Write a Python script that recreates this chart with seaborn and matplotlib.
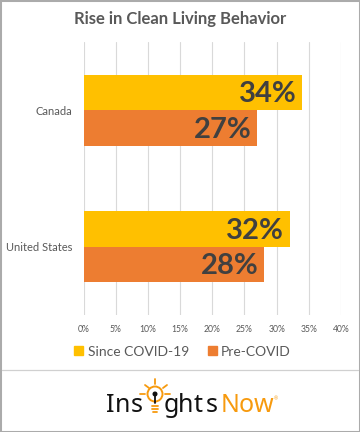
import matplotlib
matplotlib.use("Agg")
import matplotlib.pyplot as plt
from matplotlib.patches import Rectangle
from matplotlib.lines import Line2D
import seaborn as sns
import pandas as pd

countries = ["Canada", "United States"]
since_covid = [34, 32]
pre_covid = [27, 28]
series_names = ["Since COVID-19", "Pre-COVID"]
x_ticks = [0, 5, 10, 15, 20, 25, 30, 35, 40]
title = "Rise in Clean Living Behavior"

W, H = 360, 432
sns.set_theme(style="white")
plt.rcParams["font.family"] = ["Open Sans", "DejaVu Sans"]
GREY = "#595959"
colors = ["#FFC000", "#ED7D31"]

df = pd.DataFrame({
    "country": countries * 2,
    "value": since_covid + pre_covid,
    "series": [series_names[0]] * 2 + [series_names[1]] * 2,
})

fig = plt.figure(figsize=(W / 100, H / 100), dpi=100, facecolor="white")
ax = fig.add_axes([83.5 / W, 1 - 315 / H, (341 - 83.5) / W, (315 - 42) / H])
sns.barplot(data=df, y="country", x="value", hue="series", palette=colors,
            width=0.52, gap=0, saturation=1, ax=ax, legend=False, zorder=3,
            linewidth=0, edgecolor="none")
ax.set_xlim(0, 40)
ax.set_ylim(1.5, -0.5)
ax.set_xticks(x_ticks)
ax.set_xticklabels([f"{t}%" for t in x_ticks], fontsize=6.2, color=GREY, family="Lato")
ax.tick_params(axis="x", length=0, pad=7)
ax.tick_params(axis="y", length=0, pad=8, labelsize=8, labelcolor=GREY)
for t in ax.get_yticklabels():
    t.set_family("Lato")
ax.set_xlabel("")
ax.set_ylabel("")
ax.grid(axis="x", color="#D9D9D9", linewidth=0.8, zorder=0)
ax.set_axisbelow(True)
for s in ax.spines.values():
    s.set_visible(False)

for container in ax.containers:
    labels = ax.bar_label(container, labels=[f"{v:.0f}%" for v in container.datavalues],
                          label_type="edge", padding=-4, fontsize=21, fontweight="bold",
                          color="#404040", zorder=5, family="Lato")
    for t in labels:
        t.set_ha("right")
        t.xyann = (t.xyann[0], t.xyann[1] - 1.2)

fig.text(180 / W, 1 - 19 / H, title, ha="center", va="center",
         fontsize=12, fontweight="bold", color=GREY, family="Lato")

# legend
legend_handles = [Rectangle((0, 0), 1, 1, color=c) for c in colors]
fig.legend(legend_handles, series_names, loc="center", bbox_to_anchor=(182.5 / W, 1 - 351.5 / H),
           ncol=2, frameon=False, labelcolor=GREY, handlelength=0.65,
           handleheight=0.65, handletextpad=0.3, columnspacing=1.35, prop={"family": "Lato", "size": 10})

# frame and separator
fig.add_artist(Rectangle((0, 0), 1, 1, transform=fig.transFigure, fill=False,
                         edgecolor="#ABABAB", linewidth=2.2))
fig.add_artist(Line2D([2 / W, 358 / W], [1 - 369.5 / H] * 2, color="#D0D0D0", linewidth=0.9))

# logo
ink = "#111111"
orange = "#F79A0E"
def letters(chars, xs, color):
    for ch, x in zip(chars, xs):
        fig.text(x / W, 1 - 412 / H, ch, ha="center", va="baseline",
                 fontsize=18, color=color, family="Noto Sans")

letters("Ins", [110, 123, 137], ink)
letters("ghts", [171, 186, 198, 212], ink)
letters("Now", [230, 246, 264], orange)
fig.text(275.5 / W, 1 - 400 / H, "\u00ae", ha="center", va="baseline", fontsize=3.5, color=orange)

tr = matplotlib.transforms.Affine2D().scale(1.0)
cx, cy = 155, H - 394
fig.add_artist(plt.Circle((cx, cy), 7.5, fill=False, edgecolor=orange, linewidth=1.4, transform=tr))
fig.add_artist(plt.Circle((cx, cy), 1.8, color=ink, transform=tr))
for x0, y0, x1, y1 in [(155, 379, 155, 384), (145, 385, 149, 388), (167, 385, 163, 388),
                       (140, 394, 145, 394), (165, 394, 170, 394),
                       (152, 406, 158, 406), (152, 409, 158, 409), (153, 412, 157, 412)]:
    fig.add_artist(Line2D([x0 / W, x1 / W], [1 - y0 / H, 1 - y1 / H], color=orange, linewidth=1.3))
fig.add_artist(Line2D([155 / W, 155 / W], [1 - 396 / H, 1 - 403 / H], color=ink, linewidth=1.3))

fig.savefig("out.png", dpi=100, facecolor="white")
